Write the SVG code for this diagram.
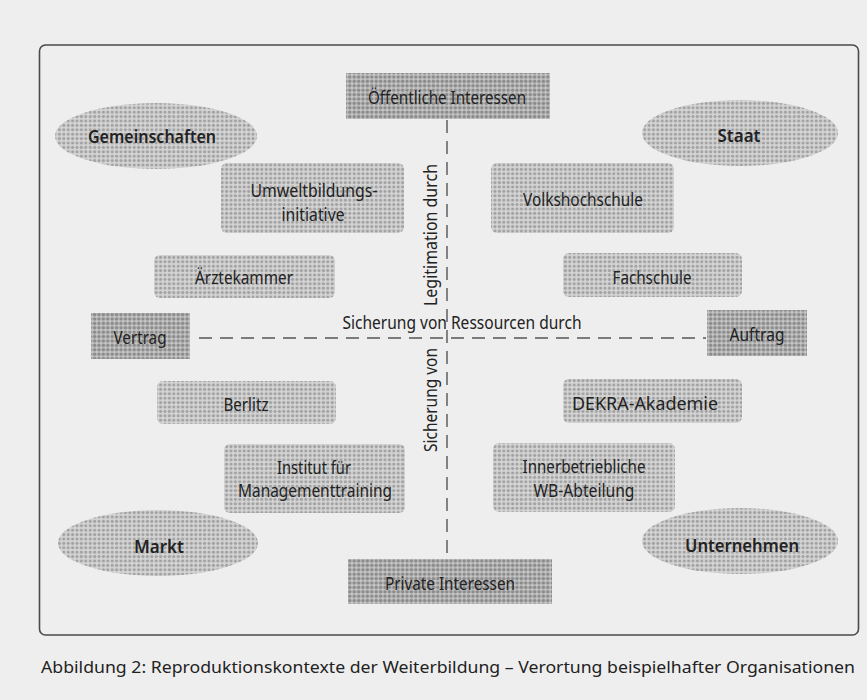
<svg xmlns="http://www.w3.org/2000/svg" width="867" height="700" viewBox="0 0 867 700">
  <defs>
    <!-- halftone screens used for the node fills -->
    <pattern id="dotsLight" patternUnits="userSpaceOnUse" width="4.4" height="4.4">
      <rect width="4.4" height="4.4" fill="#d4d4d4"/>
      <circle cx="2.2" cy="2.2" r="1.6" fill="#a2a2a2"/>
    </pattern>
    <pattern id="dotsDark" patternUnits="userSpaceOnUse" width="4.4" height="4.4">
      <rect width="4.4" height="4.4" fill="#c6c6c6"/>
      <circle cx="2.2" cy="2.2" r="1.8" fill="#8c8c8c"/>
    </pattern>
  </defs>
  <style>
    text { font-family: "Noto Sans", "Open Sans", "Liberation Sans", sans-serif; font-size: 18.5px; fill: #222; }
    .c { text-anchor: middle; }
    .b { font-weight: 600; }
    .light { fill: url(#dotsLight); }
    .dark { fill: url(#dotsDark); }
    .axis { stroke: #555; stroke-width: 1.4; stroke-dasharray: 13 8; fill: none; }
    .frame { fill: none; stroke: #4a4a4a; stroke-width: 1.6; }
  </style>

  <!-- page -->
  <rect width="867" height="700" fill="#eeeeee"/>
  <rect x="39.5" y="45" width="819" height="590" rx="6" class="frame"/>

  <!-- axes -->
  <g id="connectors">
    <line class="axis" x1="447" y1="120" x2="447" y2="559"/>
    <line class="axis" x1="199" y1="338" x2="706" y2="338"/>
  </g>

  <!-- axis labels -->
  <g id="axis-labels">
    <text class="c" x="462" y="329" textLength="239" lengthAdjust="spacingAndGlyphs">Sicherung von Ressourcen durch</text>
    <text class="c" transform="translate(437,235) rotate(-90)" textLength="142" lengthAdjust="spacingAndGlyphs">Legitimation durch</text>
    <text class="c" transform="translate(437,400) rotate(-90)" textLength="104" lengthAdjust="spacingAndGlyphs">Sicherung von</text>
  </g>

  <!-- poles -->
  <g id="oeffentliche-interessen">
    <rect class="dark" x="346" y="73" width="204" height="46"/>
    <text class="c" x="447" y="104" textLength="158" lengthAdjust="spacingAndGlyphs">Öffentliche Interessen</text>
  </g>
  <g id="private-interessen">
    <rect class="dark" x="348" y="559" width="204" height="45"/>
    <text class="c" x="450" y="590" textLength="130" lengthAdjust="spacingAndGlyphs">Private Interessen</text>
  </g>
  <g id="vertrag">
    <rect class="dark" x="91" y="313" width="99" height="46"/>
    <text class="c" x="140" y="344" textLength="53" lengthAdjust="spacingAndGlyphs">Vertrag</text>
  </g>
  <g id="auftrag">
    <rect class="dark" x="707" y="310" width="100" height="46"/>
    <text class="c" x="757" y="341" textLength="55" lengthAdjust="spacingAndGlyphs">Auftrag</text>
  </g>

  <!-- contexts -->
  <g id="gemeinschaften">
    <ellipse class="light" cx="156" cy="136" rx="101" ry="33"/>
    <text class="c b" x="152" y="143" textLength="128" lengthAdjust="spacingAndGlyphs">Gemeinschaften</text>
  </g>
  <g id="staat">
    <ellipse class="light" cx="740" cy="133" rx="98" ry="33"/>
    <text class="c b" x="739" y="142" textLength="43" lengthAdjust="spacingAndGlyphs">Staat</text>
  </g>
  <g id="markt">
    <ellipse class="light" cx="158" cy="543" rx="100" ry="33"/>
    <text class="c b" x="159" y="553" textLength="50" lengthAdjust="spacingAndGlyphs">Markt</text>
  </g>
  <g id="unternehmen">
    <ellipse class="light" cx="740" cy="541" rx="98" ry="33"/>
    <text class="c b" x="742" y="552" textLength="114" lengthAdjust="spacingAndGlyphs">Unternehmen</text>
  </g>

  <!-- organisations -->
  <g id="umweltbildungsinitiative">
    <rect class="light" x="221" y="163" width="183" height="70" rx="6"/>
    <text class="c" x="314" y="197" textLength="127" lengthAdjust="spacingAndGlyphs">Umweltbildungs-</text>
    <text class="c" x="313" y="221" textLength="63" lengthAdjust="spacingAndGlyphs">initiative</text>
  </g>
  <g id="volkshochschule">
    <rect class="light" x="491" y="163" width="183" height="70" rx="6"/>
    <text class="c" x="583" y="206" textLength="120" lengthAdjust="spacingAndGlyphs">Volkshochschule</text>
  </g>
  <g id="aerztekammer">
    <rect class="light" x="154" y="255" width="181" height="43" rx="6"/>
    <text class="c" x="244" y="284" textLength="98" lengthAdjust="spacingAndGlyphs">Ärztekammer</text>
  </g>
  <g id="fachschule">
    <rect class="light" x="563" y="253" width="179" height="44" rx="6"/>
    <text class="c" x="652" y="284" textLength="79" lengthAdjust="spacingAndGlyphs">Fachschule</text>
  </g>
  <g id="berlitz">
    <rect class="light" x="157" y="381" width="179" height="43" rx="6"/>
    <text class="c" x="246" y="411" textLength="45" lengthAdjust="spacingAndGlyphs">Berlitz</text>
  </g>
  <g id="dekra-akademie">
    <rect class="light" x="563" y="379" width="179" height="44" rx="6"/>
    <text class="c" x="645" y="410" textLength="146" lengthAdjust="spacingAndGlyphs">DEKRA-Akademie</text>
  </g>
  <g id="institut-managementtraining">
    <rect class="light" x="224" y="444" width="181" height="69" rx="6"/>
    <text class="c" x="314" y="474" textLength="74" lengthAdjust="spacingAndGlyphs">Institut für</text>
    <text class="c" x="315" y="497" textLength="154" lengthAdjust="spacingAndGlyphs">Managementtraining</text>
  </g>
  <g id="innerbetriebliche-wb">
    <rect class="light" x="493" y="443" width="182" height="69" rx="6"/>
    <text class="c" x="584" y="473" textLength="123" lengthAdjust="spacingAndGlyphs">Innerbetriebliche</text>
    <text class="c" x="584" y="497" textLength="101" lengthAdjust="spacingAndGlyphs">WB-Abteilung</text>
  </g>

  <!-- caption -->
  <text class="c" x="448" y="673" style="font-size:17px" textLength="814" lengthAdjust="spacingAndGlyphs">Abbildung 2: Reproduktionskontexte der Weiterbildung – Verortung beispielhafter Organisationen</text>
</svg>
